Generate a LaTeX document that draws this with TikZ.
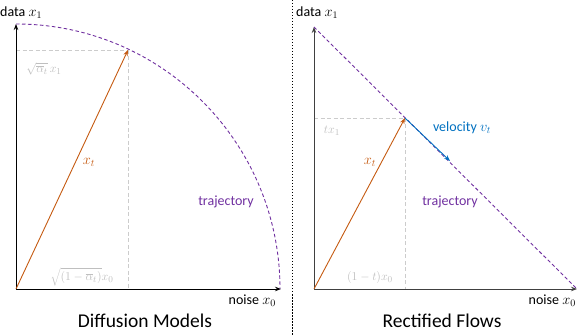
\documentclass[tikz,border=0pt]{standalone}
\usepackage{fontspec}
\setmainfont{Carlito}
\usetikzlibrary{arrows.meta}
\definecolor{orng}{HTML}{C55A11}
\definecolor{purp}{HTML}{7030A0}
\definecolor{blu}{HTML}{0070C0}
\definecolor{lbl}{HTML}{BFBFBF}
\definecolor{guide}{HTML}{CCCCCC}
\definecolor{axgray}{HTML}{404040}
\tikzset{
  axisline/.style={line width=0.9pt,-{Stealth[length=6pt,width=4.5pt]}},
  trajline/.style={purp,line width=0.9pt,dash pattern=on 3.5pt off 2.5pt},
  guideline/.style={guide,line width=0.8pt,dash pattern=on 4pt off 2.5pt},
  vecline/.style={line width=0.9pt,-{Stealth[length=6pt,width=4.5pt]}},
  txt/.style={font=\fontsize{14}{16}\selectfont,inner sep=0pt},
  ttl/.style={font=\fontsize{19.5}{22}\selectfont,inner sep=0pt},
  graylbl/.style={lbl,font=\fontsize{13}{15}\selectfont,inner sep=0pt}
}
\begin{document}
\begin{tikzpicture}[x=1pt,y=-1pt]
\useasboundingbox (0,0) rectangle (578,336);
% divider
\coordinate (DT) at (292,0);
\coordinate (DB) at (292,336);
\draw[line width=0.6pt,dash pattern=on 1.5pt off 1.5pt] (DT) -- (DB);

% ---------- left panel ----------
\coordinate (O1) at (16,289);
\coordinate (Y1) at (16,24);
\coordinate (X1) at (281,289);
\coordinate (P1) at (128,50);
\coordinate (P1y) at (16,50);
\coordinate (P1x) at (128,289);
\draw[guideline] (P1y) -- (P1);
\draw[guideline] (P1) -- (P1x);
\draw[axisline] (O1) -- (Y1);
\draw[axisline] (O1) -- (X1);
\draw[trajline] (Y1) arc[start angle=-90,end angle=0,x radius=264,y radius=265];
\draw[vecline,orng] (O1) -- (P1);
\node[txt,anchor=west] (d1) at (0,13) {data $x_1$};
\node[txt,anchor=east] (n1) at (276,301) {noise $x_0$};
\node[graylbl] (a1) at (44,69) {$\sqrt{\overline{\alpha}_t}\,x_1$};
\node[graylbl] (b1) at (82,277) {$\sqrt{(1-\overline{\alpha}_t)}x_0$};
\node[txt,orng] (xt1) at (89,162) {$x_t$};
\node[txt,purp] (tr1) at (226,202) {trajectory};
\node[ttl] (t1) at (145,321) {Diffusion Models};

% ---------- right panel ----------
\coordinate (O2) at (314,289);
\coordinate (Y2) at (314,27);
\coordinate (X2) at (577,289);
\coordinate (P2) at (405,118);
\coordinate (P2y) at (314,118);
\coordinate (P2x) at (405,289);
\coordinate (V2) at (450,161);
\draw[guideline] (P2y) -- (P2);
\draw[guideline] (P2) -- (P2x);
\draw[axisline,axgray] (O2) -- (Y2);
\draw[axisline,axgray] (O2) -- (X2);
\draw[trajline] (Y2) -- (X2);
\draw[vecline,orng] (O2) -- (P2);
\draw[vecline,blu] (P2) -- (V2);
\node[txt,anchor=west] (d2) at (296,13) {data $x_1$};
\node[txt,anchor=east] (n2) at (576,301) {noise $x_0$};
\node[graylbl] (a2) at (332,131) {$tx_1$};
\node[graylbl] (b2) at (370,278) {$(1-t)x_0$};
\node[txt,orng] (xt2) at (370,162) {$x_t$};
\node[txt,blu] (v2) at (462,128) {velocity $v_t$};
\node[txt,purp] (tr2) at (450,202) {trajectory};
\node[ttl] (t2) at (442,321) {Rectified Flows};
\end{tikzpicture}
\end{document}
